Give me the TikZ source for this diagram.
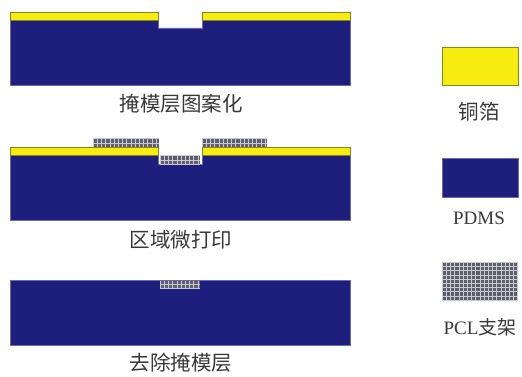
\documentclass[tikz,border=0pt]{standalone}
\usepackage{fontspec}
\setmainfont{Liberation Serif}
\newfontfamily\cjk{Noto Sans CJK SC}
\definecolor{cu}{HTML}{F7EC10}
\definecolor{cuedge}{HTML}{8A8420}
\definecolor{pdms}{HTML}{1E1E7C}
\definecolor{pdmsedge}{HTML}{6A6AB4}
\definecolor{pclgray}{HTML}{5E5E6C}
\definecolor{pclline}{HTML}{C8C8D2}
\definecolor{txt}{HTML}{383838}
\tikzset{
  cu/.style={fill=cu, draw=cuedge, line width=0.8pt},
  pdms/.style={fill=pdms, draw=pdmsedge, line width=0.8pt},
  pcl/.style={fill=pclgray, path picture={
    \foreach \k in {0,4.2,...,80}{
      \draw[pclline, line width=0.5pt] ([xshift=\k pt]path picture bounding box.south west) -- ([xshift=\k pt]path picture bounding box.north west);
      \draw[pclline, line width=0.5pt] ([yshift=\k pt]path picture bounding box.south west) -- ([yshift=\k pt]path picture bounding box.south east);
    }}},
  lbl/.style={text=txt, font=\fontsize{19}{21}\selectfont, inner sep=0pt},
  clbl/.style={text=txt, font=\cjk\fontsize{20.5}{22}\selectfont, inner sep=0pt}
}
\begin{document}
\begin{tikzpicture}[x=1pt,y=-1pt]
\useasboundingbox (0,0) rectangle (522,377);
% Panel 1
\draw[pdms] (10,20) -- (158,20) -- (158,28) -- (202,28) -- (202,20) -- (350,20) -- (350,85) -- (10,85) -- cycle;
\draw[cu] (10,12) rectangle (158,20);
\draw[cu] (202,12) rectangle (350,20);
\node[clbl] (t1) at (181,104) {掩模层图案化};
% Panel 2
\draw[pdms] (10,155) -- (158,155) -- (158,164) -- (202,164) -- (202,155) -- (350,155) -- (350,220) -- (10,220) -- cycle;
\draw[cu] (10,147) rectangle (158,155);
\draw[cu] (202,147) rectangle (350,155);
\path[pcl] (93,138) rectangle (159,147);
\path[pcl] (202,138) rectangle (267,147);
\path[pcl] (160,155.5) rectangle (200,164);
\node[clbl] (t2) at (181,240) {区域微打印};
% Panel 3
\draw[pdms] (10,280) rectangle (350,345);
\path[pcl] (160,281) rectangle (200,288);
\node[clbl] (t3) at (181,363) {去除掩模层};
% Legend
\draw[cu] (442,47) rectangle (518,85);
\node[clbl] (l1) at (479,112) {铜箔};
\draw[pdms] (442,158) rectangle (518,197);
\node[lbl] (l2) at (479,218) {PDMS};
\path[pcl] (442,262) rectangle (518,300);
\node[lbl] (l3) at (480,327) {PCL\cjk 支架};
\end{tikzpicture}
\end{document}
